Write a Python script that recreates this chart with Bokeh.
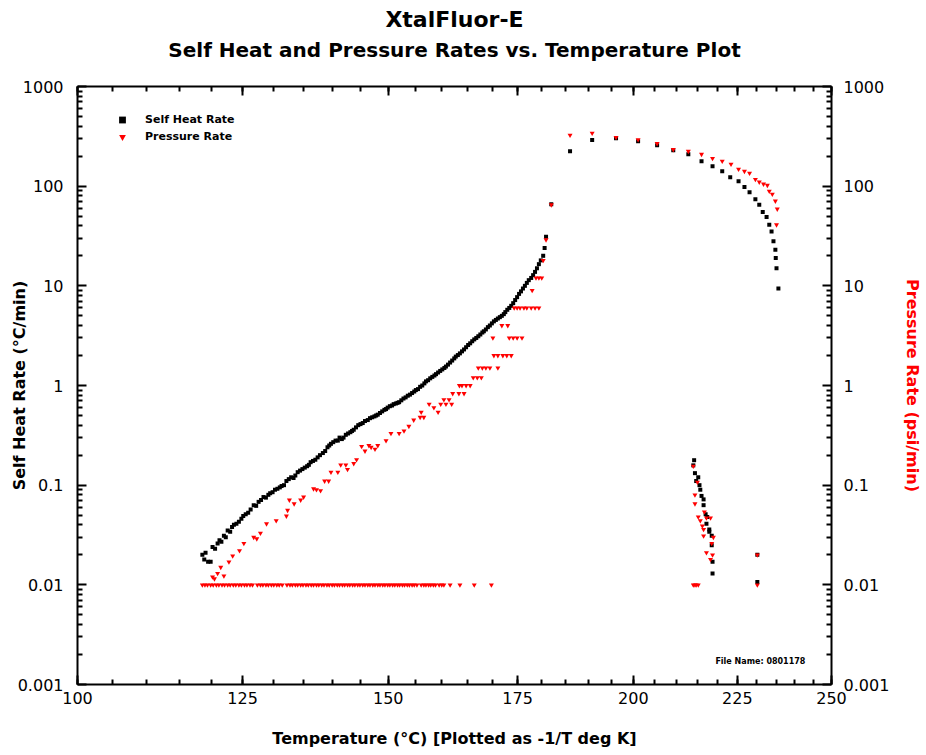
import numpy as np
from bokeh.plotting import figure
from bokeh.models import (FixedTicker, CustomJSTickFormatter, LinearAxis, LogAxis, Range1d,
                          Title, Legend, LegendItem, Label, ColumnDataSource)
from bokeh.embed import file_html
from bokeh.resources import INLINE

# ---------------- data (temperature in deg C, rates) ----------------
x_tick_labels = [100, 125, 150, 175, 200, 225, 250]
x_minor_labels = list(range(100, 251, 5))
y_tick_values = [0.001, 0.01, 0.1, 1, 10, 100, 1000]

# Self heat rate (deg C/min) – rising branch
sh_rise_temp = [118.6, 118.9, 119.1, 119.5, 119.9, 120.2, 120.6, 121.0, 121.3, 121.6, 122.0, 122.3, 122.6, 123.0,
                123.3, 123.6, 124.0, 124.4, 124.8, 125.1, 125.5, 125.9, 126.3, 126.8, 127.2, 127.6, 128.0, 128.4,
                128.8, 129.2, 129.5, 129.9, 130.3, 130.7, 131.1, 131.4, 131.8, 132.2, 132.6, 133.0, 133.4, 133.7,
                134.1, 134.5, 134.9, 135.3, 135.7, 136.0, 136.3, 136.7, 137.1, 137.5, 137.9, 138.4, 138.8, 139.2,
                139.5, 139.8, 140.2, 140.6, 141.0, 141.3, 141.7, 142.0, 142.4, 142.8, 143.2, 143.5, 143.8, 144.2,
                144.6, 145.0, 145.4, 145.8, 146.3, 146.7, 147.1, 147.5, 147.8, 148.1, 148.5, 148.9, 149.3, 149.6,
                149.9, 150.3, 150.7, 151.0, 151.4, 151.7, 152.0, 152.4, 152.8, 153.2, 153.6, 154.0, 154.4, 154.8,
                155.1, 155.5, 155.9, 156.3, 156.7, 157.0, 157.4, 157.8, 158.2, 158.6, 158.9, 159.3, 159.7, 160.1,
                160.5, 160.8, 161.2, 161.6, 162.0, 162.4, 162.7, 163.1, 163.5, 163.9, 164.3, 164.7, 165.1, 165.5,
                165.9, 166.3, 166.7, 167.1, 167.5, 167.9, 168.2, 168.6, 169.0, 169.4, 169.8, 170.2, 170.6, 171.0,
                171.4, 171.8, 172.2, 172.5, 172.9, 173.3, 173.7, 174.1, 174.5, 174.9, 175.3, 175.7, 176.1, 176.5,
                176.9, 177.3, 177.8, 178.2, 178.6, 179.0, 179.4, 179.8, 180.3, 180.6, 180.9, 182.0]
sh_rise_rate = [0.020, 0.018, 0.021, 0.017, 0.017, 0.024, 0.023, 0.026, 0.028, 0.027, 0.031, 0.030, 0.035, 0.034,
                0.038, 0.040, 0.041, 0.043, 0.046, 0.049, 0.051, 0.053, 0.057, 0.063, 0.062, 0.068, 0.071, 0.076,
                0.075, 0.080, 0.083, 0.085, 0.090, 0.092, 0.095, 0.098, 0.10, 0.11, 0.115, 0.12, 0.118, 0.125,
                0.135, 0.14, 0.145, 0.15, 0.155, 0.16, 0.17, 0.175, 0.18, 0.19, 0.20, 0.21, 0.22, 0.24,
                0.25, 0.26, 0.27, 0.28, 0.28, 0.30, 0.29, 0.30, 0.32, 0.33, 0.34, 0.35, 0.36, 0.38,
                0.40, 0.41, 0.42, 0.44, 0.45, 0.47, 0.48, 0.49, 0.50, 0.51, 0.53, 0.55, 0.57, 0.58,
                0.60, 0.62, 0.63, 0.65, 0.66, 0.67, 0.68, 0.71, 0.74, 0.76, 0.79, 0.81, 0.84, 0.87,
                0.90, 0.92, 0.97, 1.00, 1.05, 1.10, 1.13, 1.18, 1.22, 1.26, 1.30, 1.35, 1.40, 1.45,
                1.50, 1.55, 1.62, 1.70, 1.78, 1.87, 1.95, 2.02, 2.10, 2.20, 2.30, 2.42, 2.55, 2.65,
                2.78, 2.90, 3.00, 3.12, 3.25, 3.40, 3.50, 3.65, 3.85, 4.00, 4.20, 4.40, 4.55, 4.70,
                4.85, 5.00, 5.20, 5.45, 5.75, 6.00, 6.30, 6.70, 7.20, 7.70, 8.30, 8.80, 9.40, 10.0,
                10.7, 11.4, 12.0, 12.8, 13.8, 15.0, 16.5, 18.0, 20.0, 24.0, 31.0, 66.0]

# Self heat rate – after the exotherm peak
sh_peak_temp = [186.0, 190.8, 196.1, 201.1, 205.5, 209.3, 212.9, 216.1, 218.8, 221.2, 223.2, 225.3, 226.8,
                228.1, 229.6, 230.6, 231.5, 232.5, 233.2, 233.8, 234.3, 234.8, 234.9, 235.1, 235.6]
sh_peak_rate = [224, 290, 302, 282, 257, 229, 209, 178, 158, 141, 123, 112, 98,
                87, 74, 65, 55, 49, 41, 35, 28, 23, 19, 15, 9.4]

# Self heat rate – cooling tail
sh_tail_temp = [214.3, 214.1, 214.5, 215.3, 214.8, 215.6, 215.8, 216.1, 216.6, 216.6, 217.1, 217.5, 217.3,
                218.0, 218.0, 218.6, 218.6, 218.8, 218.8, 230.1, 230.1]
sh_tail_rate = [0.178, 0.158, 0.132, 0.12, 0.11, 0.10, 0.09, 0.078, 0.072, 0.063, 0.051, 0.048, 0.041,
                0.036, 0.034, 0.031, 0.025, 0.017, 0.013, 0.020, 0.0107]

# Pressure rate (psi/min) – rising branch
pr_rise_temp = [120.2, 120.5, 121.0, 121.5, 122.0, 122.8, 123.4, 124.5, 125.2, 126.8, 127.3, 127.9, 128.9,
                130.5, 132.2, 132.4, 132.7, 133.5, 134.6, 135.1, 136.8, 137.3, 138.0, 138.7, 139.4, 139.8,
                141.0, 141.5, 142.4, 142.7, 143.8, 144.3, 145.2, 145.8, 146.5, 146.9, 147.6, 148.1, 149.6,
                150.5, 152.0, 152.9, 153.8, 154.7, 155.9, 156.6, 156.1, 157.6, 158.5, 159.3, 159.8, 160.8,
                161.9, 160.4, 161.4, 162.1, 163.3, 164.3, 163.4, 163.9, 164.7, 165.5, 166.1, 166.9, 167.7,
                167.1, 167.9, 168.6, 169.4, 171.0, 170.2, 171.0, 172.0, 172.8, 173.7, 170.0, 173.3, 174.1,
                174.9, 175.9, 171.8, 173.0, 174.3, 174.9, 175.5, 176.3, 176.9, 177.8, 178.6, 179.4, 178.0,
                178.8, 179.4, 180.0, 180.3, 180.9, 182.0]
pr_rise_rate = [0.012, 0.0115, 0.013, 0.015, 0.0123, 0.017, 0.0195, 0.022, 0.026, 0.030, 0.029, 0.033, 0.041,
                0.044, 0.049, 0.056, 0.071, 0.065, 0.071, 0.076, 0.092, 0.090, 0.088, 0.11, 0.11, 0.135,
                0.135, 0.16, 0.16, 0.144, 0.165, 0.18, 0.245, 0.22, 0.25, 0.24, 0.23, 0.25, 0.28,
                0.33, 0.33, 0.35, 0.39, 0.45, 0.48, 0.48, 0.54, 0.65, 0.60, 0.54, 0.65, 0.65,
                0.65, 0.72, 0.72, 0.83, 0.83, 0.83, 1.0, 1.0, 1.0, 1.0, 1.2, 1.2, 1.2,
                1.5, 1.5, 1.5, 1.5, 1.5, 2.0, 2.0, 2.0, 2.0, 2.0, 3.0, 3.0, 3.0,
                3.0, 3.0, 4.0, 4.0, 6.0, 6.0, 6.0, 6.0, 6.0, 6.0, 6.0, 6.0, 9.0,
                12.0, 12.0, 12.0, 18.0, 29.0, 65.0]

# Pressure rate – values at the 0.01 floor of the recorder
pr_floor_temp = [118.6, 119.0, 119.4, 119.9, 120.3, 120.8, 121.2, 121.7, 122.1, 122.6, 123.0, 123.5, 123.9, 124.4,
                 124.8, 125.3, 125.7, 126.2, 126.6, 127.4, 127.9, 128.3, 128.8, 129.2, 129.7, 130.1, 130.6, 131.0,
                 131.5, 132.3, 132.8, 133.2, 133.7, 134.1, 134.6, 135.0, 135.5, 135.9, 136.4, 136.8, 137.3, 137.7,
                 138.2, 138.6, 139.1, 139.5, 140.0, 140.4, 140.9, 141.3, 141.8, 142.2, 142.7, 143.1, 143.6, 144.0,
                 144.5, 144.9, 145.4, 145.8, 146.3, 146.7, 147.2, 147.6, 148.1, 148.5, 149.0, 149.4, 149.9, 150.3,
                 150.8, 151.2, 151.7, 152.1, 152.6, 153.0, 153.5, 153.9, 154.4, 154.8, 155.3, 156.1, 156.6, 157.0,
                 157.5, 157.9, 158.4, 158.8, 159.5, 160.0, 160.4, 161.6, 163.5, 166.3, 169.7,
                 214.1, 214.5, 214.8, 215.3, 230.1]
pr_floor_rate = [0.01] * len(pr_floor_temp)

# Pressure rate – after the peak
pr_peak_temp = [186.0, 190.8, 196.1, 201.1, 205.5, 209.3, 212.9, 216.1, 218.8, 221.2, 223.4, 225.3, 226.8,
                228.1, 229.6, 230.6, 231.7, 232.7, 233.2, 234.0, 234.8, 235.3, 235.1]
pr_peak_rate = [325, 340, 308, 293, 268, 233, 224, 209, 190, 178, 166, 148, 141,
                135, 117, 110, 105, 102, 89, 83, 71, 59, 41]

# Pressure rate – cooling tail
pr_tail_temp = [214.1, 215.1, 214.5, 214.5, 216.8, 215.3, 215.8, 217.3, 218.3, 216.3, 216.6, 216.6, 219.0,
                218.6, 217.3, 218.8, 218.3, 230.1]
pr_tail_rate = [0.155, 0.107, 0.080, 0.065, 0.054, 0.048, 0.044, 0.047, 0.047, 0.039, 0.036, 0.031, 0.030,
                0.026, 0.021, 0.020, 0.018, 0.020]


def inv_t(t):
    """Temperature in deg C -> plotting coordinate -1000/T(K)."""
    return -1000.0 / (np.asarray(t, dtype=float) + 273.15)


sh_temp = sh_rise_temp + sh_peak_temp + sh_tail_temp
sh_rate = sh_rise_rate + sh_peak_rate + sh_tail_rate
pr_temp = pr_floor_temp + pr_rise_temp + pr_peak_temp + pr_tail_temp
pr_rate = pr_floor_rate + pr_rise_rate + pr_peak_rate + pr_tail_rate

src_sh = ColumnDataSource(dict(x=inv_t(sh_temp), y=sh_rate))
src_pr = ColumnDataSource(dict(x=inv_t(pr_temp), y=pr_rate))

x_lo, x_hi = inv_t([x_tick_labels[0], x_tick_labels[-1]])

p = figure(width=926, height=755, output_backend="svg", toolbar_location=None,
           y_axis_type="log", x_range=Range1d(x_lo, x_hi), y_range=Range1d(0.001, 1000),
           min_border_left=77, min_border_right=95, min_border_top=86, min_border_bottom=71,
           background_fill_color="white", border_fill_color="white")
p.grid.visible = False
p.outline_line_color = None

xticker = FixedTicker(ticks=list(inv_t(x_tick_labels)), minor_ticks=list(inv_t(x_minor_labels)))
xfmt = CustomJSTickFormatter(code="return Math.round(-1000/tick - 273.15).toString();")
blankfmt = CustomJSTickFormatter(code="return '';")
yticker = FixedTicker(ticks=y_tick_values,
                      minor_ticks=[m * 10.0 ** k for k in range(-3, 3) for m in range(2, 10)])
yfmt = CustomJSTickFormatter(code="return String(parseFloat(tick.toPrecision(6)));")

TICK_FONT = "DejaVu Sans"
TITLE_FONT = "DejaVu Sans"


def style_axis(ax, show_labels=True):
    ax.axis_line_color = "black"
    ax.axis_line_width = 2
    ax.major_tick_line_color = "black"
    ax.major_tick_line_width = 2
    ax.minor_tick_line_color = "black"
    ax.minor_tick_line_width = 2
    ax.major_tick_in = 9
    ax.major_tick_out = 0
    ax.minor_tick_in = 5
    ax.minor_tick_out = 0
    ax.major_label_text_font = TICK_FONT
    ax.major_label_text_color = "black"
    ax.major_label_text_font_size = "16px"
    if not show_labels:
        ax.major_label_standoff = 0
    ax.axis_label_text_font = TITLE_FONT
    ax.axis_label_text_font_style = "bold"
    ax.axis_label_text_font_size = "16px"
    ax.axis_label_text_color = "black"


# bottom axis
xb = p.xaxis[0]
xb.ticker = xticker
xb.formatter = xfmt
style_axis(xb)
xb.major_label_standoff = 7
xb.axis_label = "Temperature (°C) [Plotted as -1/T deg K]"
xb.axis_label_standoff = 22

# top axis (ticks only) – carries the subtitle as its label
xt = LinearAxis(ticker=xticker, formatter=blankfmt)
style_axis(xt, show_labels=False)
xt.axis_label = "Self Heat and Pressure Rates vs. Temperature Plot"
xt.axis_label_text_font_size = "20px"
xt.axis_label_standoff = 25
p.add_layout(xt, "above")

# left axis
yl = p.yaxis[0]
yl.ticker = yticker
yl.formatter = yfmt
style_axis(yl)
yl.major_label_standoff = 14
yl.axis_label = "Self Heat Rate (°C/min)"
yl.axis_label_standoff = -14

# right axis
yr = LogAxis(ticker=yticker, formatter=yfmt)
style_axis(yr)
yr.major_label_standoff = 12
yr.axis_label = "Pressure Rate (psi/min)"
yr.axis_label_text_color = "red"
yr.axis_label_standoff = 11
p.add_layout(yr, "right")

# main title
main = Title(text="XtalFluor-E", align="center", text_font=TITLE_FONT, text_font_style="bold",
             text_font_size="22px", text_color="black", standoff=6)
p.add_layout(main, "above")

# data
r_sh = p.scatter("x", "y", source=src_sh, marker="square", size=4, color="black", line_width=0)
r_pr = p.scatter("x", "y", source=src_pr, marker="inverted_triangle", size=5, color="red", line_width=0)

legend = Legend(items=[LegendItem(label="Self Heat Rate", renderers=[r_sh]),
                       LegendItem(label="Pressure Rate", renderers=[r_pr])],
                location="top_left", margin=25, padding=0, glyph_width=40, glyph_height=17,
                label_height=17, spacing=0, label_standoff=3, label_text_font=TITLE_FONT,
                label_text_font_size="11px", label_text_font_style="bold", label_text_color="black",
                border_line_color=None, background_fill_alpha=0)
p.add_layout(legend)

fname = Label(x=float(inv_t(219.5)), y=0.0017, text="File Name: 0801178", text_font=TITLE_FONT,
              text_font_size="8px", text_font_style="bold", text_baseline="middle", text_color="black")
p.add_layout(fname)

open("out.html", "w").write(file_html(p, INLINE))
